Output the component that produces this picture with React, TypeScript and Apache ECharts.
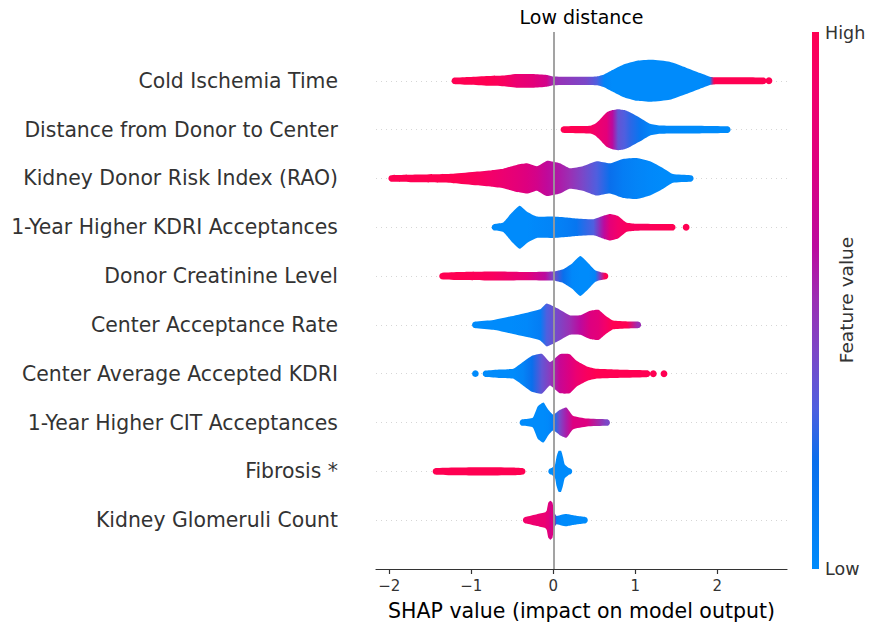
import React, { useEffect, useRef } from "react";
import * as echarts from "echarts";

// Feature names, top to bottom
const featureNames = [
  "Cold Ischemia Time",
  "Distance from Donor to Center",
  "Kidney Donor Risk Index (RAO)",
  "1-Year Higher KDRI Acceptances",
  "Donor Creatinine Level",
  "Center Acceptance Rate",
  "Center Average Accepted KDRI",
  "1-Year Higher CIT Acceptances",
  "Fibrosis *",
  "Kidney Glomeruli Count",
];

const xTicks = [-2, -1, 0, 1, 2];
const xMin = -2.162;
const xMax = 2.85;

// Swarm profiles: [SHAP value, local spread (row units), feature value 0=low..1=high]
const coldIschemiaTime = [
  [-1.2, 0.068, 1.0], [-1.02, 0.08, 1.0], [-0.8, 0.1, 1.0], [-0.61, 0.11, 0.95],
  [-0.45, 0.14, 0.85], [-0.25, 0.14, 0.8], [-0.08, 0.12, 0.7], [0.0, 0.09, 0.5],
  [0.2, 0.085, 0.45], [0.4, 0.085, 0.4], [0.53, 0.09, 0.3], [0.62, 0.13, 0.05],
  [0.72, 0.22, 0.0], [0.85, 0.33, 0.0], [1.02, 0.41, 0.0], [1.2, 0.43, 0.0],
  [1.42, 0.39, 0.0], [1.62, 0.27, 0.0], [1.79, 0.16, 0.0], [1.91, 0.085, 0.05],
  [1.96, 0.075, 1.0], [2.2, 0.072, 1.0], [2.56, 0.068, 1.0],
];
const coldIschemiaOutliers = [[2.63, 0.07, 1.0]];

const distanceDonorCenter = [
  [0.13, 0.068, 1.0], [0.3, 0.072, 1.0], [0.45, 0.08, 0.95], [0.51, 0.12, 0.9],
  [0.57, 0.21, 0.85], [0.65, 0.35, 0.8], [0.72, 0.4, 0.6], [0.79, 0.42, 0.35],
  [0.87, 0.4, 0.3], [0.94, 0.35, 0.25], [1.06, 0.24, 0.15], [1.18, 0.12, 0.05],
  [1.3, 0.085, 0.02], [1.7, 0.08, 0.0], [2.12, 0.07, 0.0],
];

const kdriRao = [
  [-1.97, 0.068, 1.0], [-1.62, 0.08, 1.0], [-1.22, 0.096, 1.0], [-0.93, 0.14, 0.95],
  [-0.75, 0.17, 0.9], [-0.61, 0.2, 0.85], [-0.44, 0.28, 0.8], [-0.32, 0.31, 0.75],
  [-0.2, 0.25, 0.7], [-0.08, 0.36, 0.62], [0.08, 0.31, 0.55], [0.2, 0.21, 0.5],
  [0.36, 0.25, 0.4], [0.53, 0.35, 0.3], [0.69, 0.31, 0.2], [0.85, 0.4, 0.1],
  [1.02, 0.42, 0.05], [1.18, 0.35, 0.02], [1.34, 0.21, 0.0], [1.46, 0.09, 0.0],
  [1.67, 0.068, 0.0],
];

const higherKdriAcceptances = [
  [-0.71, 0.068, 0.0], [-0.61, 0.096, 0.0], [-0.51, 0.29, 0.0], [-0.41, 0.44, 0.0],
  [-0.32, 0.32, 0.0], [-0.2, 0.22, 0.02], [0.0, 0.22, 0.05], [0.16, 0.2, 0.1],
  [0.28, 0.18, 0.15], [0.49, 0.165, 0.3], [0.62, 0.24, 0.6], [0.69, 0.27, 0.8],
  [0.79, 0.23, 0.9], [0.89, 0.096, 0.95], [1.0, 0.072, 0.95], [1.45, 0.068, 1.0],
];
const higherKdriOutliers = [[1.62, 0.07, 1.0]];

const donorCreatinine = [
  [-1.35, 0.068, 1.0], [-1.14, 0.082, 1.0], [-0.73, 0.092, 0.95], [-0.32, 0.085, 0.8],
  [-0.1, 0.09, 0.6], [0.0, 0.092, 0.4], [0.12, 0.14, 0.2], [0.23, 0.26, 0.02],
  [0.33, 0.41, 0.0], [0.43, 0.26, 0.0], [0.51, 0.12, 0.05], [0.58, 0.08, 0.5],
  [0.63, 0.068, 1.0],
];

const centerAcceptanceRate = [
  [-0.95, 0.068, 0.0], [-0.73, 0.1, 0.0], [-0.53, 0.17, 0.0], [-0.32, 0.25, 0.02],
  [-0.16, 0.32, 0.1], [-0.08, 0.44, 0.3], [0.05, 0.34, 0.4], [0.2, 0.2, 0.5],
  [0.33, 0.2, 0.6], [0.45, 0.29, 0.75], [0.55, 0.31, 0.8], [0.63, 0.2, 0.9],
  [0.73, 0.09, 1.0], [0.9, 0.072, 1.0], [1.03, 0.068, 0.5],
];

const centerAvgKdri = [
  [-0.82, 0.068, 0.0], [-0.65, 0.088, 0.0], [-0.49, 0.1, 0.0], [-0.37, 0.24, 0.05],
  [-0.26, 0.37, 0.2], [-0.14, 0.41, 0.35], [-0.04, 0.24, 0.45], [0.08, 0.4, 0.65],
  [0.2, 0.4, 0.75], [0.28, 0.27, 0.85], [0.41, 0.15, 0.95], [0.53, 0.1, 1.0],
  [0.73, 0.088, 1.0], [1.14, 0.072, 1.0],
];
const centerAvgKdriOutliers = [[-0.95, 0.068, 0.0], [1.22, 0.07, 1.0], [1.35, 0.07, 1.0]];

const higherCitAcceptances = [
  [-0.37, 0.068, 0.0], [-0.25, 0.1, 0.0], [-0.19, 0.33, 0.0], [-0.12, 0.41, 0.0],
  [-0.06, 0.26, 0.02], [0.0, 0.16, 0.1], [0.08, 0.26, 0.4], [0.16, 0.31, 0.55],
  [0.24, 0.14, 0.75], [0.41, 0.082, 0.75], [0.65, 0.068, 0.4],
];

const fibrosisHigh = [
  [-1.43, 0.068, 1.0], [-1.2, 0.08, 1.0], [-0.8, 0.085, 1.0], [-0.5, 0.08, 1.0], [-0.38, 0.068, 1.0],
];
const fibrosisLow = [
  [-0.02, 0.068, 0.0], [0.02, 0.13, 0.0], [0.04, 0.3, 0.0], [0.065, 0.42, 0.0],
  [0.095, 0.42, 0.0], [0.12, 0.28, 0.0], [0.14, 0.14, 0.0], [0.19, 0.068, 0.0],
];

const glomeruliCount = [
  [-0.33, 0.068, 0.9], [-0.2, 0.12, 0.85], [-0.1, 0.16, 0.85], [-0.08, 0.2, 0.8],
  [-0.06, 0.36, 0.8], [-0.035, 0.4, 0.7], [-0.01, 0.36, 0.75], [0.01, 0.16, 0.7],
  [0.04, 0.085, 0.1], [0.1, 0.11, 0.0], [0.16, 0.125, 0.0], [0.24, 0.1, 0.0],
  [0.32, 0.08, 0.0], [0.38, 0.068, 0.0],
];

// Row index: 9 = top feature
const swarmSegments = [
  { row: 9, points: coldIschemiaTime },
  ...coldIschemiaOutliers.map((p) => ({ row: 9, points: [p] })),
  { row: 8, points: distanceDonorCenter },
  { row: 7, points: kdriRao },
  { row: 6, points: higherKdriAcceptances },
  ...higherKdriOutliers.map((p) => ({ row: 6, points: [p] })),
  { row: 5, points: donorCreatinine },
  { row: 4, points: centerAcceptanceRate },
  { row: 3, points: centerAvgKdri },
  ...centerAvgKdriOutliers.map((p) => ({ row: 3, points: [p] })),
  { row: 2, points: higherCitAcceptances },
  { row: 1, points: fibrosisHigh },
  { row: 1, points: fibrosisLow },
  { row: 0, points: glomeruliCount },
];

const colorStops: [number, number[]][] = [
  [0.0, [0, 139, 251]],
  [0.2, [10, 111, 236]],
  [0.3, [79, 95, 223]],
  [0.4, [122, 72, 200]],
  [0.5, [155, 47, 180]],
  [0.6, [188, 10, 158]],
  [0.75, [221, 0, 128]],
  [0.9, [243, 0, 106]],
  [1.0, [255, 0, 82]],
];

function colorAt(v: number): string {
  const t = Math.max(0, Math.min(1, v));
  for (let i = 0; i < colorStops.length - 1; i++) {
    const [a, ca] = colorStops[i];
    const [b, cb] = colorStops[i + 1];
    if (t <= b) {
      const f = (t - a) / (b - a);
      const c = ca.map((x, k) => Math.round(x + (cb[k] - x) * f));
      return `rgb(${c[0]},${c[1]},${c[2]})`;
    }
  }
  const c = colorStops[colorStops.length - 1][1];
  return `rgb(${c[0]},${c[1]},${c[2]})`;
}

const FONT = "DejaVu Sans";

export default function App() {
  const ref = useRef<HTMLDivElement>(null);
  useEffect(() => {
    if (!ref.current) return;
    const chart = echarts.init(ref.current, null, { renderer: "svg" });
    const gridLeft = 376;
    const gridTop = 32;
    const gridBottomY = 569;
    const gridRightX = 787;

    const renderItem = (params: any, api: any) => {
      const seg = swarmSegments[params.dataIndex];
      const pts = seg.points;
      const unit = Math.abs(api.size([0, 1])[1]);
      const cy = api.coord([pts[0][0], seg.row])[1];
      const xs = pts.map((p) => api.coord([p[0], seg.row])[0]);
      const hs = pts.map((p) => p[1] * unit);
      if (pts.length === 1) {
        return {
          type: "circle",
          shape: { cx: xs[0], cy, r: hs[0] },
          style: { fill: colorAt(pts[0][2]) },
        };
      }
      const n = pts.length - 1;
      const poly: number[][] = [];
      for (let i = 0; i <= n; i++) poly.push([xs[i], cy - hs[i]]);
      for (let k = 1; k < 12; k++) {
        const a = -Math.PI / 2 + (Math.PI * k) / 12;
        poly.push([xs[n] + hs[n] * Math.cos(a), cy + hs[n] * Math.sin(a)]);
      }
      for (let i = n; i >= 0; i--) poly.push([xs[i], cy + hs[i]]);
      for (let k = 1; k < 12; k++) {
        const a = Math.PI / 2 + (Math.PI * k) / 12;
        poly.push([xs[0] + hs[0] * Math.cos(a), cy + hs[0] * Math.sin(a)]);
      }
      const gx0 = xs[0] - hs[0];
      const gx1 = xs[n] + hs[n];
      const stops = [{ offset: 0, color: colorAt(pts[0][2]) }];
      pts.forEach((p, i) =>
        stops.push({ offset: (xs[i] - gx0) / (gx1 - gx0), color: colorAt(p[2]) })
      );
      stops.push({ offset: 1, color: colorAt(pts[n][2]) });
      return {
        type: "polygon",
        shape: { points: poly, smooth: 0.15 },
        style: { fill: new echarts.graphic.LinearGradient(gx0, 0, gx1, 0, stops, true) },
      };
    };

    const cbStops = colorStops
      .map(([v, c]) => ({ offset: 1 - v, color: `rgb(${c[0]},${c[1]},${c[2]})` }))
      .reverse();

    chart.setOption({
      animation: false,
      backgroundColor: "#ffffff",
      textStyle: { fontFamily: FONT },
      grid: {
        left: gridLeft,
        top: gridTop,
        width: gridRightX - gridLeft,
        height: gridBottomY - gridTop,
        containLabel: false,
      },
      xAxis: {
        type: "value",
        min: xMin,
        max: xMax,
        name: "SHAP value (impact on model output)",
        nameLocation: "middle",
        nameGap: 31,
        nameTextStyle: { fontFamily: FONT, fontSize: 20.5, color: "#000" },
        axisLine: { show: true, onZero: false, lineStyle: { color: "#333", width: 1.2 } },
        axisTick: { show: true, customValues: xTicks, length: 5, lineStyle: { color: "#333", width: 1.2 } },
        axisLabel: {
          show: true,
          customValues: xTicks,
          fontFamily: FONT,
          fontSize: 15,
          color: "#333",
          margin: 9,
          formatter: (v: number) => String(v).replace("-", "\u2212"),
        },
        splitLine: { show: false },
      },
      yAxis: {
        type: "value",
        min: -1,
        max: 10,
        axisLine: { show: false },
        axisTick: { show: false },
        splitLine: { show: false },
        axisLabel: {
          show: true,
          customValues: featureNames.map((_, i) => i),
          formatter: (v: number) => featureNames[9 - v] ?? "",
          fontFamily: FONT,
          fontSize: 20.4,
          color: "#333",
          margin: 38,
        },
      },
      graphic: [
        {
          type: "text",
          x: 581.5,
          y: 17,
          style: {
            text: "Low distance",
            fontFamily: FONT,
            fontSize: 19,
            fill: "#000",
            align: "center",
            verticalAlign: "middle",
          },
        },
        {
          type: "rect",
          shape: { x: 812, y: 32, width: 7, height: 537 },
          style: { fill: new echarts.graphic.LinearGradient(0, 0, 0, 1, cbStops) },
        },
        {
          type: "text",
          x: 825,
          y: 33,
          style: { text: "High", fontFamily: FONT, fontSize: 17.5, fill: "#333", align: "left", verticalAlign: "middle" },
        },
        {
          type: "text",
          x: 825,
          y: 569,
          style: { text: "Low", fontFamily: FONT, fontSize: 17.5, fill: "#333", align: "left", verticalAlign: "middle" },
        },
        {
          type: "text",
          x: 846,
          y: 300,
          rotation: Math.PI / 2,
          style: {
            text: "Feature value",
            fontFamily: FONT,
            fontSize: 18.5,
            fill: "#333",
            align: "center",
            verticalAlign: "middle",
          },
        },
      ],
      series: [
        {
          type: "line",
          data: [],
          z: 1,
          silent: true,
          markLine: {
            silent: true,
            z: 1,
            symbol: "none",
            label: { show: false },
            animation: false,
            data: featureNames.map((_, i) => ({
              yAxis: i,
              lineStyle: { color: "#cccccc", width: 0.8, type: [1, 4] },
            })),
          },
        },
        {
          type: "custom",
          z: 6,
          clip: false,
          silent: true,
          renderItem,
          encode: { x: 0, y: 1 },
          data: swarmSegments.map((s) => [s.points[0][0], s.row]),
        },
        {
          type: "line",
          data: [],
          z: 8,
          silent: true,
          markLine: {
            silent: true,
            z: 8,
            symbol: "none",
            label: { show: false },
            animation: false,
            data: [{ xAxis: 0, lineStyle: { color: "#999999", width: 1.8, type: "solid" } }],
          },
        },
      ],
    });
    return () => chart.dispose();
  }, []);
  return (
    <div
      ref={ref}
      style={{ position: "fixed", left: 0, top: 0, width: 887, height: 626 }}
    />
  );
}
